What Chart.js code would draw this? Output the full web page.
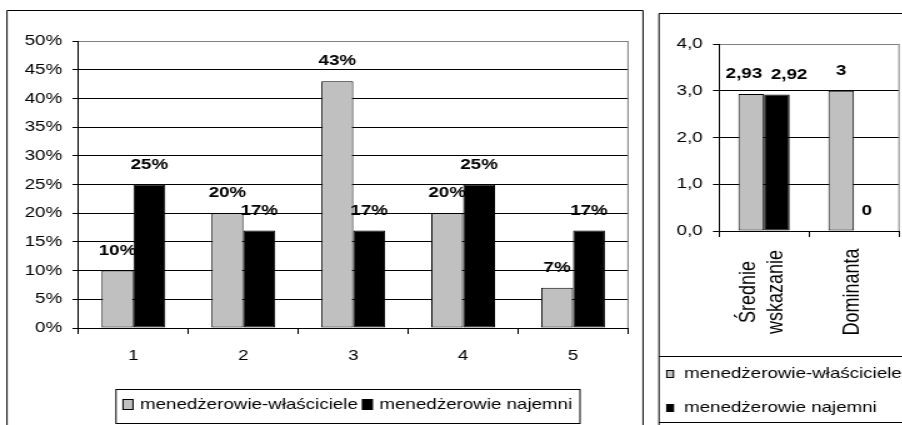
<!DOCTYPE html>
<html>
<head>
<meta charset="utf-8">
<script src="https://cdn.jsdelivr.net/npm/chart.js@4/dist/chart.umd.min.js"></script>
<style>
  html, body { margin: 0; padding: 0; background: #fff; width: 902px; height: 425px; overflow: hidden; }
  .panel { position: absolute; top: 0; transform-origin: 0 0; transform: scaleX(1.25); }
  #panelShares { left: 0; }
  #panelStats { left: 650px; }
  canvas { display: block; }
</style>
</head>
<body>
<div class="panel" id="panelShares"><canvas id="shares" width="518" height="425"></canvas></div>
<div class="panel" id="panelStats"><canvas id="stats" width="210" height="425"></canvas></div>
<script>
// ---- data ----
const seriesNames = ['menedżerowie-właściciele', 'menedżerowie najemni'];

const ratingCategories = ['1', '2', '3', '4', '5'];
const ownerShares = [10, 20, 43, 20, 7];
const hiredShares = [25, 17, 17, 25, 17];
const shareTicks = [0, 5, 10, 15, 20, 25, 30, 35, 40, 45, 50];

const statCategories = [['Średnie', 'wskazanie'], 'Dominanta'];
const ownerStats = [2.93, 3];
const hiredStats = [2.92, 0];
const statTicks = [0, 1, 2, 3, 4];

// ---- styling ----
const FONT = '"Liberation Sans", Arial, Helvetica, sans-serif';
const TEXT_SIZE = 15;
const GRAY_FILL = '#C0C0C0';
const EDGE_GRAY = '#808080';

const pct = v => v + '%';
const commaNum = v => String(v).replace('.', ',');
const commaTick = v => v.toFixed(1).replace('.', ',');

// outer frame, plot-area edge, white background
const framePlugin = {
  id: 'frame',
  beforeDraw(chart, args, o) {
    const ctx = chart.ctx;
    ctx.save();
    ctx.fillStyle = '#fff';
    ctx.fillRect(0, 0, chart.width, chart.height);
    ctx.strokeStyle = '#000';
    ctx.lineWidth = 1;
    ctx.beginPath();
    ctx.moveTo(o.left, chart.height + 5);
    ctx.lineTo(o.left, o.top);
    ctx.lineTo(o.right, o.top);
    ctx.lineTo(o.right, chart.height + 5);
    ctx.stroke();
    ctx.restore();
  },
  beforeDatasetsDraw(chart) {
    const { right, top, bottom } = chart.chartArea;
    const ctx = chart.ctx;
    ctx.save();
    ctx.strokeStyle = EDGE_GRAY;
    ctx.lineWidth = 1;
    ctx.beginPath();
    ctx.moveTo(right, top);
    ctx.lineTo(right, bottom);
    ctx.stroke();
    ctx.restore();
  }
};

// value labels above each bar
const valueLabels = {
  id: 'valueLabels',
  afterDatasetsDraw(chart, args, o) {
    const ctx = chart.ctx;
    ctx.save();
    ctx.font = 'bold ' + TEXT_SIZE + 'px ' + FONT;
    ctx.fillStyle = '#000';
    ctx.textAlign = 'center';
    ctx.textBaseline = 'middle';
    chart.data.datasets.forEach((ds, di) => {
      const meta = chart.getDatasetMeta(di);
      meta.data.forEach((bar, i) => {
        const nudge = (o.nudge && o.nudge[di] && o.nudge[di][i]) || 0;
        ctx.fillText(o.format(ds.data[i]), bar.x + nudge, bar.y - o.lift);
      });
    });
    ctx.restore();
  }
};

// framed legend drawn from the dataset names and colours
const boxLegend = {
  id: 'boxLegend',
  afterDraw(chart, args, o) {
    const ctx = chart.ctx;
    ctx.save();
    ctx.font = TEXT_SIZE + 'px ' + FONT;
    ctx.textAlign = 'left';
    ctx.textBaseline = 'middle';
    ctx.strokeStyle = '#000';
    ctx.lineWidth = 1;
    if (o.box) ctx.strokeRect(o.box.x, o.box.y + 0.5, o.box.w, o.box.h);
    if (o.rules) {
      o.rules.forEach(r => {
        ctx.beginPath();
        ctx.moveTo(r.x1, r.y + 0.5);
        ctx.lineTo(r.x2, r.y + 0.5);
        ctx.stroke();
      });
    }
    let x = o.x;
    chart.data.datasets.forEach((ds, i) => {
      const y = o.row ? o.y : o.ys[i];
      const sx = o.row ? x : o.x;
      ctx.fillStyle = ds.backgroundColor;
      ctx.fillRect(sx, y - o.sh / 2, o.sw, o.sh);
      ctx.strokeRect(sx, y - o.sh / 2, o.sw, o.sh);
      ctx.fillStyle = '#000';
      const tx = sx + o.textGap;
      ctx.fillText(ds.label, tx, y);
      x = tx + ctx.measureText(ds.label).width + o.itemGap;
    });
    ctx.restore();
  }
};

// vertical category names under the statistics chart
const rotatedCategories = {
  id: 'rotatedCategories',
  afterDraw(chart, args, o) {
    if (!o.enabled) return;
    const ctx = chart.ctx;
    const sc = chart.scales.x;
    ctx.save();
    ctx.font = o.size + 'px ' + FONT;
    ctx.fillStyle = '#000';
    ctx.textAlign = 'center';
    ctx.textBaseline = 'middle';
    chart.data.labels.forEach((lab, i) => {
      const lines = Array.isArray(lab) ? lab : [lab];
      ctx.save();
      ctx.translate(sc.getPixelForValue(i) + o.shift, o.centerY);
      ctx.rotate(-Math.PI / 2);
      lines.forEach((ln, k) => {
        ctx.fillText(ln, 0, (k - (lines.length - 1) / 2) * o.lineGap);
      });
      ctx.restore();
    });
    ctx.restore();
  }
};

Chart.register(framePlugin, valueLabels, boxLegend, rotatedCategories);

function valueAxis(min, max, tickValues, fmt, width) {
  return {
    min: min, max: max,
    afterBuildTicks: s => { s.ticks = tickValues.map(v => ({ value: v })); },
    afterFit: s => { s.width = width; },
    ticks: { callback: v => fmt(v), color: '#000', font: { family: FONT, size: TEXT_SIZE }, padding: 8.2 },
    grid: {
      color: c => (c.tick && c.tick.value === max) ? EDGE_GRAY : '#000',
      tickColor: '#000', tickLength: 4.8, lineWidth: 1
    },
    border: { color: '#000', width: 1 }
  };
}

function categoryAxis(height, showLabels) {
  return {
    afterFit: s => { s.height = height; },
    ticks: { display: showLabels, color: '#000', font: { family: FONT, size: TEXT_SIZE }, padding: 13, maxRotation: 0, autoSkip: false },
    grid: { drawOnChartArea: false, drawTicks: true, tickLength: 6, tickColor: '#000', offset: true },
    border: { color: '#000', width: 1 }
  };
}

const barStyle = (label, data, fill) => ({
  label: label, data: data, backgroundColor: fill,
  borderColor: '#000', borderWidth: 1, borderSkipped: false
});

// ---- distribution of answers ----
new Chart(document.getElementById('shares'), {
  type: 'bar',
  data: {
    labels: ratingCategories,
    datasets: [
      barStyle(seriesNames[0], ownerShares, GRAY_FILL),
      barStyle(seriesNames[1], hiredShares, '#000000')
    ]
  },
  options: {
    responsive: false, animation: false, devicePixelRatio: 1,
    categoryPercentage: 0.58, barPercentage: 1.0,
    layout: { padding: { top: 41, right: 15.6, bottom: 57, left: 0 } },
    scales: {
      x: categoryAxis(40, true),
      y: valueAxis(0, 50, shareTicks, pct, 62.8)
    },
    plugins: {
      legend: { display: false },
      tooltip: { enabled: false },
      frame: { left: 5.6, top: 10.5, right: 514.4 },
      valueLabels: { format: pct, lift: 20 },
      boxLegend: { box: { x: 92.8, y: 389, w: 371.2, h: 34 }, row: true, x: 98.4, y: 404.5, sw: 8, sh: 10, textGap: 13.6, itemGap: 3.7 },
      rotatedCategories: { enabled: false }
    }
  }
});

// ---- mean and mode ----
new Chart(document.getElementById('stats'), {
  type: 'bar',
  data: {
    labels: statCategories,
    datasets: [
      barStyle(seriesNames[0], ownerStats, GRAY_FILL),
      barStyle(seriesNames[1], hiredStats, '#000000')
    ]
  },
  options: {
    responsive: false, animation: false, devicePixelRatio: 1,
    categoryPercentage: 0.57, barPercentage: 1.0,
    layout: { padding: { top: 44, right: 10.8, bottom: 184, left: 0 } },
    scales: {
      x: categoryAxis(10, false),
      y: valueAxis(0, 4, statTicks, commaTick, 55.2)
    },
    plugins: {
      legend: { display: false },
      tooltip: { enabled: false },
      frame: { left: 7.2, top: 13.5, right: 400 },
      valueLabels: { format: commaNum, lift: 20, nudge: [[-5.8, 0], [9.9, 0]] },
      boxLegend: {
        rules: [{ x1: 7.2, x2: 400, y: 356 }, { x1: 7.2, x2: 400, y: 422 }],
        row: false, x: 13.4, ys: [374, 408], sw: 5.4, sh: 7, textGap: 13.8, itemGap: 0
      },
      rotatedCategories: { enabled: true, size: 18, centerY: 292, lineGap: 21.6, shift: -1.2 }
    }
  }
});
</script>
</body>
</html>
